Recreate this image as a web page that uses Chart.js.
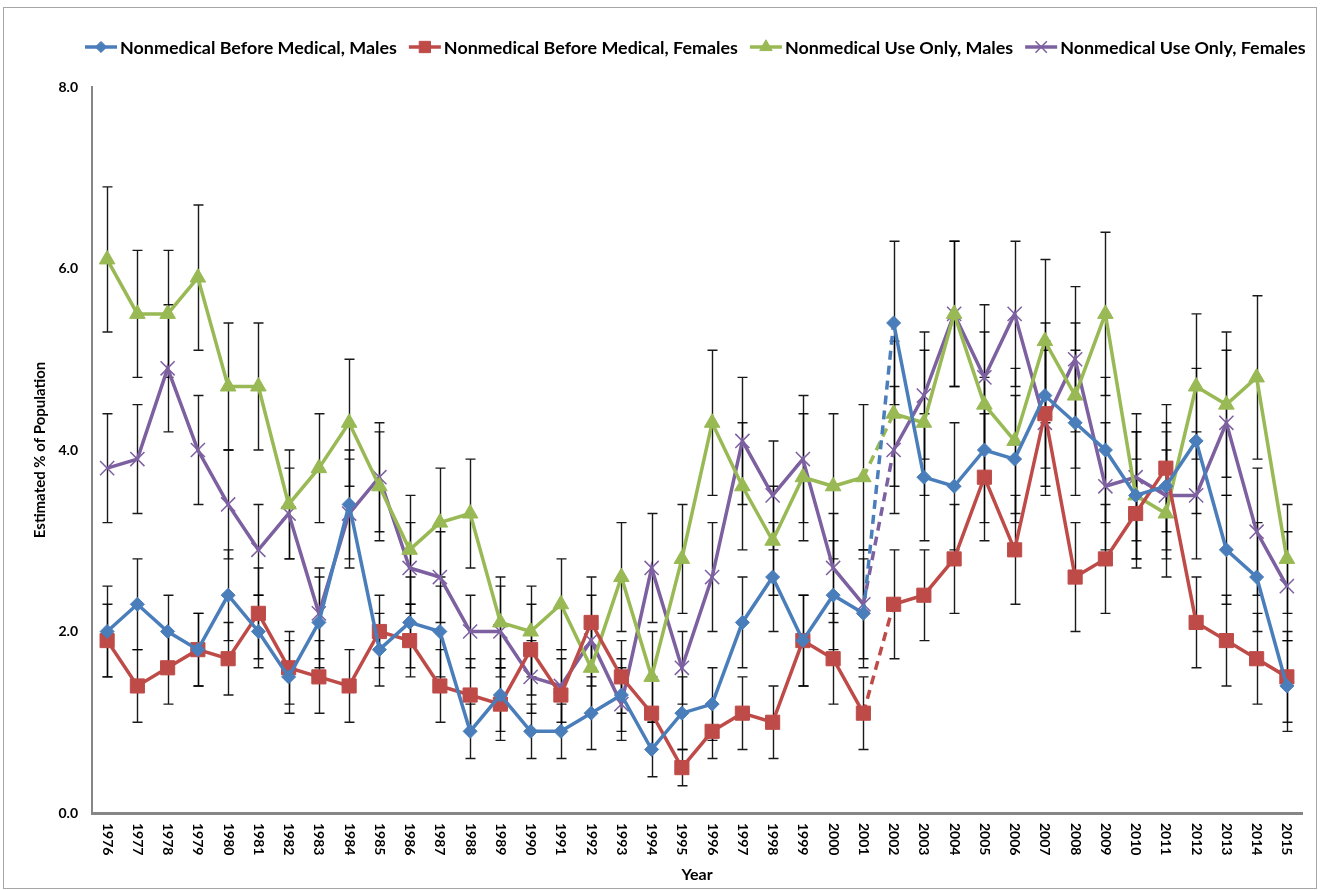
<!DOCTYPE html>
<html><head><meta charset="utf-8">
<script src="https://cdn.jsdelivr.net/npm/chart.js@4.4.0/dist/chart.umd.min.js"></script>
<style>html,body{margin:0;padding:0;background:#fff}canvas{display:block}</style>
</head><body>
<canvas id="c" width="1320" height="890"></canvas>
<script>
const years = ['1976','1977','1978','1979','1980','1981','1982','1983','1984','1985','1986','1987','1988','1989','1990','1991','1992','1993','1994','1995','1996','1997','1998','1999','2000','2001','2002','2003','2004','2005','2006','2007','2008','2009','2010','2011','2012','2013','2014','2015'];

const nbmMales      = [2.0,2.3,2.0,1.8,2.4,2.0,1.5,2.1,3.4,1.8,2.1,2.0,0.9,1.3,0.9,0.9,1.1,1.3,0.7,1.1,1.2,2.1,2.6,1.9,2.4,2.2,5.4,3.7,3.6,4.0,3.9,4.6,4.3,4.0,3.5,3.6,4.1,2.9,2.6,1.4];
const nbmMalesErr   = [0.5,0.5,0.4,0.4,0.5,0.4,0.4,0.5,0.6,0.4,0.5,0.5,0.3,0.4,0.3,0.3,0.4,0.4,0.3,0.4,0.4,0.5,0.6,0.5,0.6,0.6,0.9,0.7,0.7,0.8,0.7,0.8,0.8,0.8,0.7,0.7,0.8,0.6,0.6,0.5];

const nbmFemales    = [1.9,1.4,1.6,1.8,1.7,2.2,1.6,1.5,1.4,2.0,1.9,1.4,1.3,1.2,1.8,1.3,2.1,1.5,1.1,0.5,0.9,1.1,1.0,1.9,1.7,1.1,2.3,2.4,2.8,3.7,2.9,4.4,2.6,2.8,3.3,3.8,2.1,1.9,1.7,1.5];
const nbmFemalesErr = [0.4,0.4,0.4,0.4,0.4,0.5,0.4,0.4,0.4,0.4,0.4,0.4,0.4,0.4,0.5,0.4,0.5,0.4,0.4,0.2,0.3,0.4,0.4,0.5,0.5,0.4,0.6,0.5,0.6,0.7,0.6,0.8,0.6,0.6,0.6,0.7,0.5,0.5,0.5,0.5];

const nuoMales      = [6.1,5.5,5.5,5.9,4.7,4.7,3.4,3.8,4.3,3.6,2.9,3.2,3.3,2.1,2.0,2.3,1.6,2.6,1.5,2.8,4.3,3.6,3.0,3.7,3.6,3.7,4.4,4.3,5.5,4.5,4.1,5.2,4.6,5.5,3.5,3.3,4.7,4.5,4.8,2.8];
const nuoMalesErr   = [0.8,0.7,0.7,0.8,0.7,0.7,0.6,0.6,0.7,0.6,0.6,0.6,0.6,0.5,0.5,0.5,0.5,0.6,0.5,0.6,0.8,0.7,0.6,0.7,0.8,0.8,0.8,0.8,0.8,0.8,0.8,0.9,0.8,0.9,0.7,0.7,0.8,0.8,0.9,0.6];

const nuoFemales    = [3.8,3.9,4.9,4.0,3.4,2.9,3.3,2.2,3.3,3.7,2.7,2.6,2.0,2.0,1.5,1.4,1.9,1.2,2.7,1.6,2.6,4.1,3.5,3.9,2.7,2.3,4.0,4.6,5.5,4.8,5.5,4.3,5.0,3.6,3.7,3.5,3.5,4.3,3.1,2.5];
const nuoFemalesErr = [0.6,0.6,0.7,0.6,0.6,0.5,0.5,0.5,0.6,0.6,0.5,0.5,0.4,0.5,0.4,0.4,0.5,0.4,0.6,0.4,0.6,0.7,0.6,0.7,0.6,0.6,0.7,0.7,0.8,0.8,0.8,0.8,0.8,0.7,0.7,0.7,0.7,0.8,0.7,0.6];

const yTicks = [0, 2, 4, 6, 8];
const breakYear = '2002';
const FONT = 'Lato, "Open Sans", sans-serif';

const breakIndex = years.indexOf(breakYear);

function series(label, data, errs, color, style, radius, borderW) {
  return {
    label, data, errorBars: errs,
    borderColor: color, backgroundColor: color,
    borderWidth: 3.5,
    pointStyle: style, pointRadius: radius, pointHoverRadius: radius,
    pointBorderColor: color, pointBackgroundColor: color,
    pointBorderWidth: borderW,
    tension: 0,
    segment: { borderDash: ctx => ctx.p1DataIndex === breakIndex ? [9, 6] : undefined }
  };
}

const datasets = [
  series('Nonmedical Before Medical, Males', nbmMales, nbmMalesErr, '#4A7EBB', 'rectRot', 7, 1),
  series('Nonmedical Before Medical, Females', nbmFemales, nbmFemalesErr, '#BE4B48', 'rect', 10, 1),
  series('Nonmedical Use Only, Males', nuoMales, nuoMalesErr, '#98B954', 'triangle', 9, 1),
  series('Nonmedical Use Only, Females', nuoFemales, nuoFemalesErr, '#7D60A0', 'crossRot', 10, 1.5)
];

const framePlugin = {
  id: 'frame',
  beforeDraw(chart) {
    const ctx = chart.ctx;
    ctx.save();
    ctx.fillStyle = '#fff';
    ctx.fillRect(0, 0, chart.width, chart.height);
    ctx.strokeStyle = '#A6A6A6';
    ctx.lineWidth = 1;
    ctx.strokeRect(3.5, 7.5, 1313, 881);
    ctx.restore();
  }
};

const errorPlugin = {
  id: 'errorBars',
  beforeDatasetsDraw(chart) {
    const ctx = chart.ctx, ys = chart.scales.y;
    ctx.save();
    ctx.strokeStyle = 'rgba(0,0,0,0.9)';
    ctx.lineWidth = 1.4;
    chart.data.datasets.forEach((d, i) => {
      const meta = chart.getDatasetMeta(i);
      meta.data.forEach((pt, j) => {
        const v = d.data[j], e = d.errorBars[j];
        const x = Math.round(pt.x) + 0.5;
        const yt = ys.getPixelForValue(v + e), yb = ys.getPixelForValue(v - e);
        ctx.beginPath();
        ctx.moveTo(x, yt); ctx.lineTo(x, yb);
        ctx.moveTo(x - 5, yt); ctx.lineTo(x + 5, yt);
        ctx.moveTo(x - 5, yb); ctx.lineTo(x + 5, yb);
        ctx.stroke();
      });
    });
    ctx.restore();
  }
};

function drawMarker(ctx, style, color, x, y, r, bw) {
  ctx.save();
  ctx.fillStyle = color; ctx.strokeStyle = color; ctx.lineWidth = bw;
  Chart.helpers.drawPoint(ctx, { pointStyle: style, radius: r, borderWidth: bw, rotation: 0 }, x, y);
  ctx.restore();
}

const textPlugin = {
  id: 'texts',
  afterDraw(chart) {
    const ctx = chart.ctx, xs = chart.scales.x, area = chart.chartArea;
    ctx.save();
    // Legend
    const lineLen = 32, gapAfterLine = 3, itemGap = 12;
    const legLeft = 85, legRight = 1306;
    ctx.font = `bold 16px ${FONT}`;
    const w16 = datasets.reduce((a, d) => a + ctx.measureText(d.label).width, 0);
    const textTotal = (legRight - legLeft) - datasets.length * (lineLen + gapAfterLine) - (datasets.length - 1) * itemGap;
    const fs = 16 * textTotal / w16;
    ctx.font = `bold ${fs}px ${FONT}`;
    const widths = datasets.map(d => ctx.measureText(d.label).width);
    let x = legLeft;
    const ly = 47;
    ctx.textBaseline = 'middle'; ctx.textAlign = 'left';
    datasets.forEach((d, i) => {
      ctx.strokeStyle = d.borderColor; ctx.lineWidth = 3.5;
      ctx.beginPath(); ctx.moveTo(x, ly); ctx.lineTo(x + lineLen, ly); ctx.stroke();
      drawMarker(ctx, d.pointStyle, d.borderColor, x + lineLen / 2, ly, d.pointRadius * 0.8, d.pointBorderWidth);
      ctx.fillStyle = '#000';
      ctx.fillText(d.label, x + lineLen + gapAfterLine, ly + 1);
      x += lineLen + gapAfterLine + widths[i] + itemGap;
    });
    // X tick labels (rotated, reading downward)
    ctx.font = `bold 14px ${FONT}`;
    ctx.fillStyle = '#000';
    years.forEach((yr, i) => {
      const px = xs.getPixelForValue(i);
      ctx.save();
      ctx.translate(px, area.bottom + 10);
      ctx.rotate(Math.PI / 2);
      ctx.textAlign = 'left'; ctx.textBaseline = 'middle';
      ctx.fillText(yr, 0, 0);
      ctx.restore();
    });
    // Axis titles
    ctx.font = `bold 16px ${FONT}`;
    ctx.textAlign = 'center'; ctx.textBaseline = 'middle';
    ctx.fillText('Year', (area.left + area.right) / 2, 875);
    ctx.save();
    ctx.translate(40, (area.top + area.bottom) / 2);
    ctx.rotate(-Math.PI / 2);
    ctx.font = `bold 15px ${FONT}`;
    ctx.fillText('Estimated % of Population', 0, 0);
    ctx.restore();
    ctx.restore();
  }
};

new Chart(document.getElementById('c'), {
  type: 'line',
  data: { labels: years, datasets },
  options: {
    responsive: false,
    animation: false,
    devicePixelRatio: 1,
    layout: { padding: { top: 87, right: 18, bottom: 0, left: 0 } },
    plugins: { legend: { display: false }, tooltip: { enabled: false } },
    scales: {
      x: {
        offset: true,
        grid: { display: false, drawTicks: false },
        border: { display: true, color: '#868686', width: 3 },
        ticks: { display: false },
        afterFit(s) { s.height = 77; }
      },
      y: {
        min: 0, max: 8,
        afterBuildTicks(s) { s.ticks = yTicks.map(v => ({ value: v })); },
        grid: { display: false, drawTicks: false },
        border: { display: true, color: '#868686', width: 2 },
        ticks: {
          padding: 14, color: '#000',
          font: { family: FONT, size: 14, weight: 'bold' },
          callback: v => Number(v).toFixed(1)
        },
        afterFit(s) { s.width = 92; }
      }
    }
  },
  plugins: [framePlugin, errorPlugin, textPlugin]
});
</script>
</body></html>
